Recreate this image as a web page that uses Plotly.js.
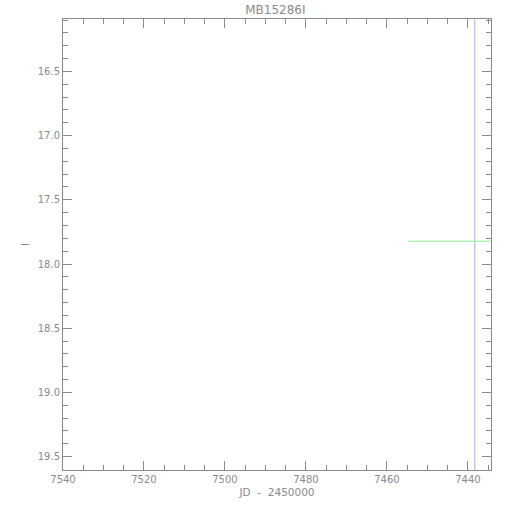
<!DOCTYPE html>
<html>
<head>
<meta charset="utf-8">
<script src="https://cdn.plot.ly/plotly-3.0.1.min.js"></script>
<style>html,body{margin:0;padding:0;background:#fff;}#chart{width:510px;height:510px;}</style>
</head>
<body>
<div id="chart"></div>
<script>
// Data
const chartTitle = "MB15286I";
const xTitle = "JD\u00a0\u00a0-\u00a0\u00a02450000";
const yTitle = "I";
const xRange = [7540, 7434.3];
const yRange = [19.604, 16.092];
// vertical marker line (light blue)
const vlineX = [7438.3, 7438.3];
const vlineY = [16.092, 19.604];
// horizontal baseline segment (light green)
const hlineX = [7454.7, 7434.3];
const hlineY = [17.822, 17.822];

const gray = "#8a8a8a";
const fam = "DejaVu Sans, Verdana, sans-serif";
const tickFont = {family: fam, size: 10, color: gray};
const titleFont = {family: fam, size: 12, color: gray};
const axTitleFont = {family: fam, size: 10.5, color: gray};

const traces = [
  {x: vlineX, y: vlineY, mode: "lines", line: {color: "#a8a8f0", width: 1}, hoverinfo: "skip", showlegend: false},
  {x: hlineX, y: hlineY, mode: "lines", line: {color: "#8fe88f", width: 1}, hoverinfo: "skip", showlegend: false}
];

const axisCommon = {
  showgrid: false, zeroline: false, showline: true, linecolor: gray, linewidth: 1,
  mirror: "allticks", ticks: "inside", tickcolor: gray, ticklen: 9, tickwidth: 1,
  tickfont: tickFont
};

const layout = {
  width: 510, height: 510,
  margin: {l: 63, r: 19, t: 19, b: 40},
  paper_bgcolor: "#fff", plot_bgcolor: "#fff",
  font: tickFont,
  title: {text: chartTitle, font: titleFont, x: 0.54, xanchor: "center", y: 0.981, yanchor: "middle"},
  xaxis: Object.assign({}, axisCommon, {
    range: xRange, dtick: 20, tick0: 7440,
    minor: {dtick: 5, tick0: 7440, ticks: "inside", ticklen: 5, tickcolor: gray},
    title: {text: xTitle, font: axTitleFont, standoff: 4}
  }),
  yaxis: Object.assign({}, axisCommon, {
    range: yRange, dtick: 0.5, tick0: 16.5, tickformat: ".1f",
    minor: {dtick: 0.1, tick0: 16.5, ticks: "inside", ticklen: 5, tickcolor: gray},
    title: {text: yTitle, font: axTitleFont, standoff: 6}
  })
};

Plotly.newPlot("chart", traces, layout, {displayModeBar: false, staticPlot: true});
</script>
</body>
</html>
